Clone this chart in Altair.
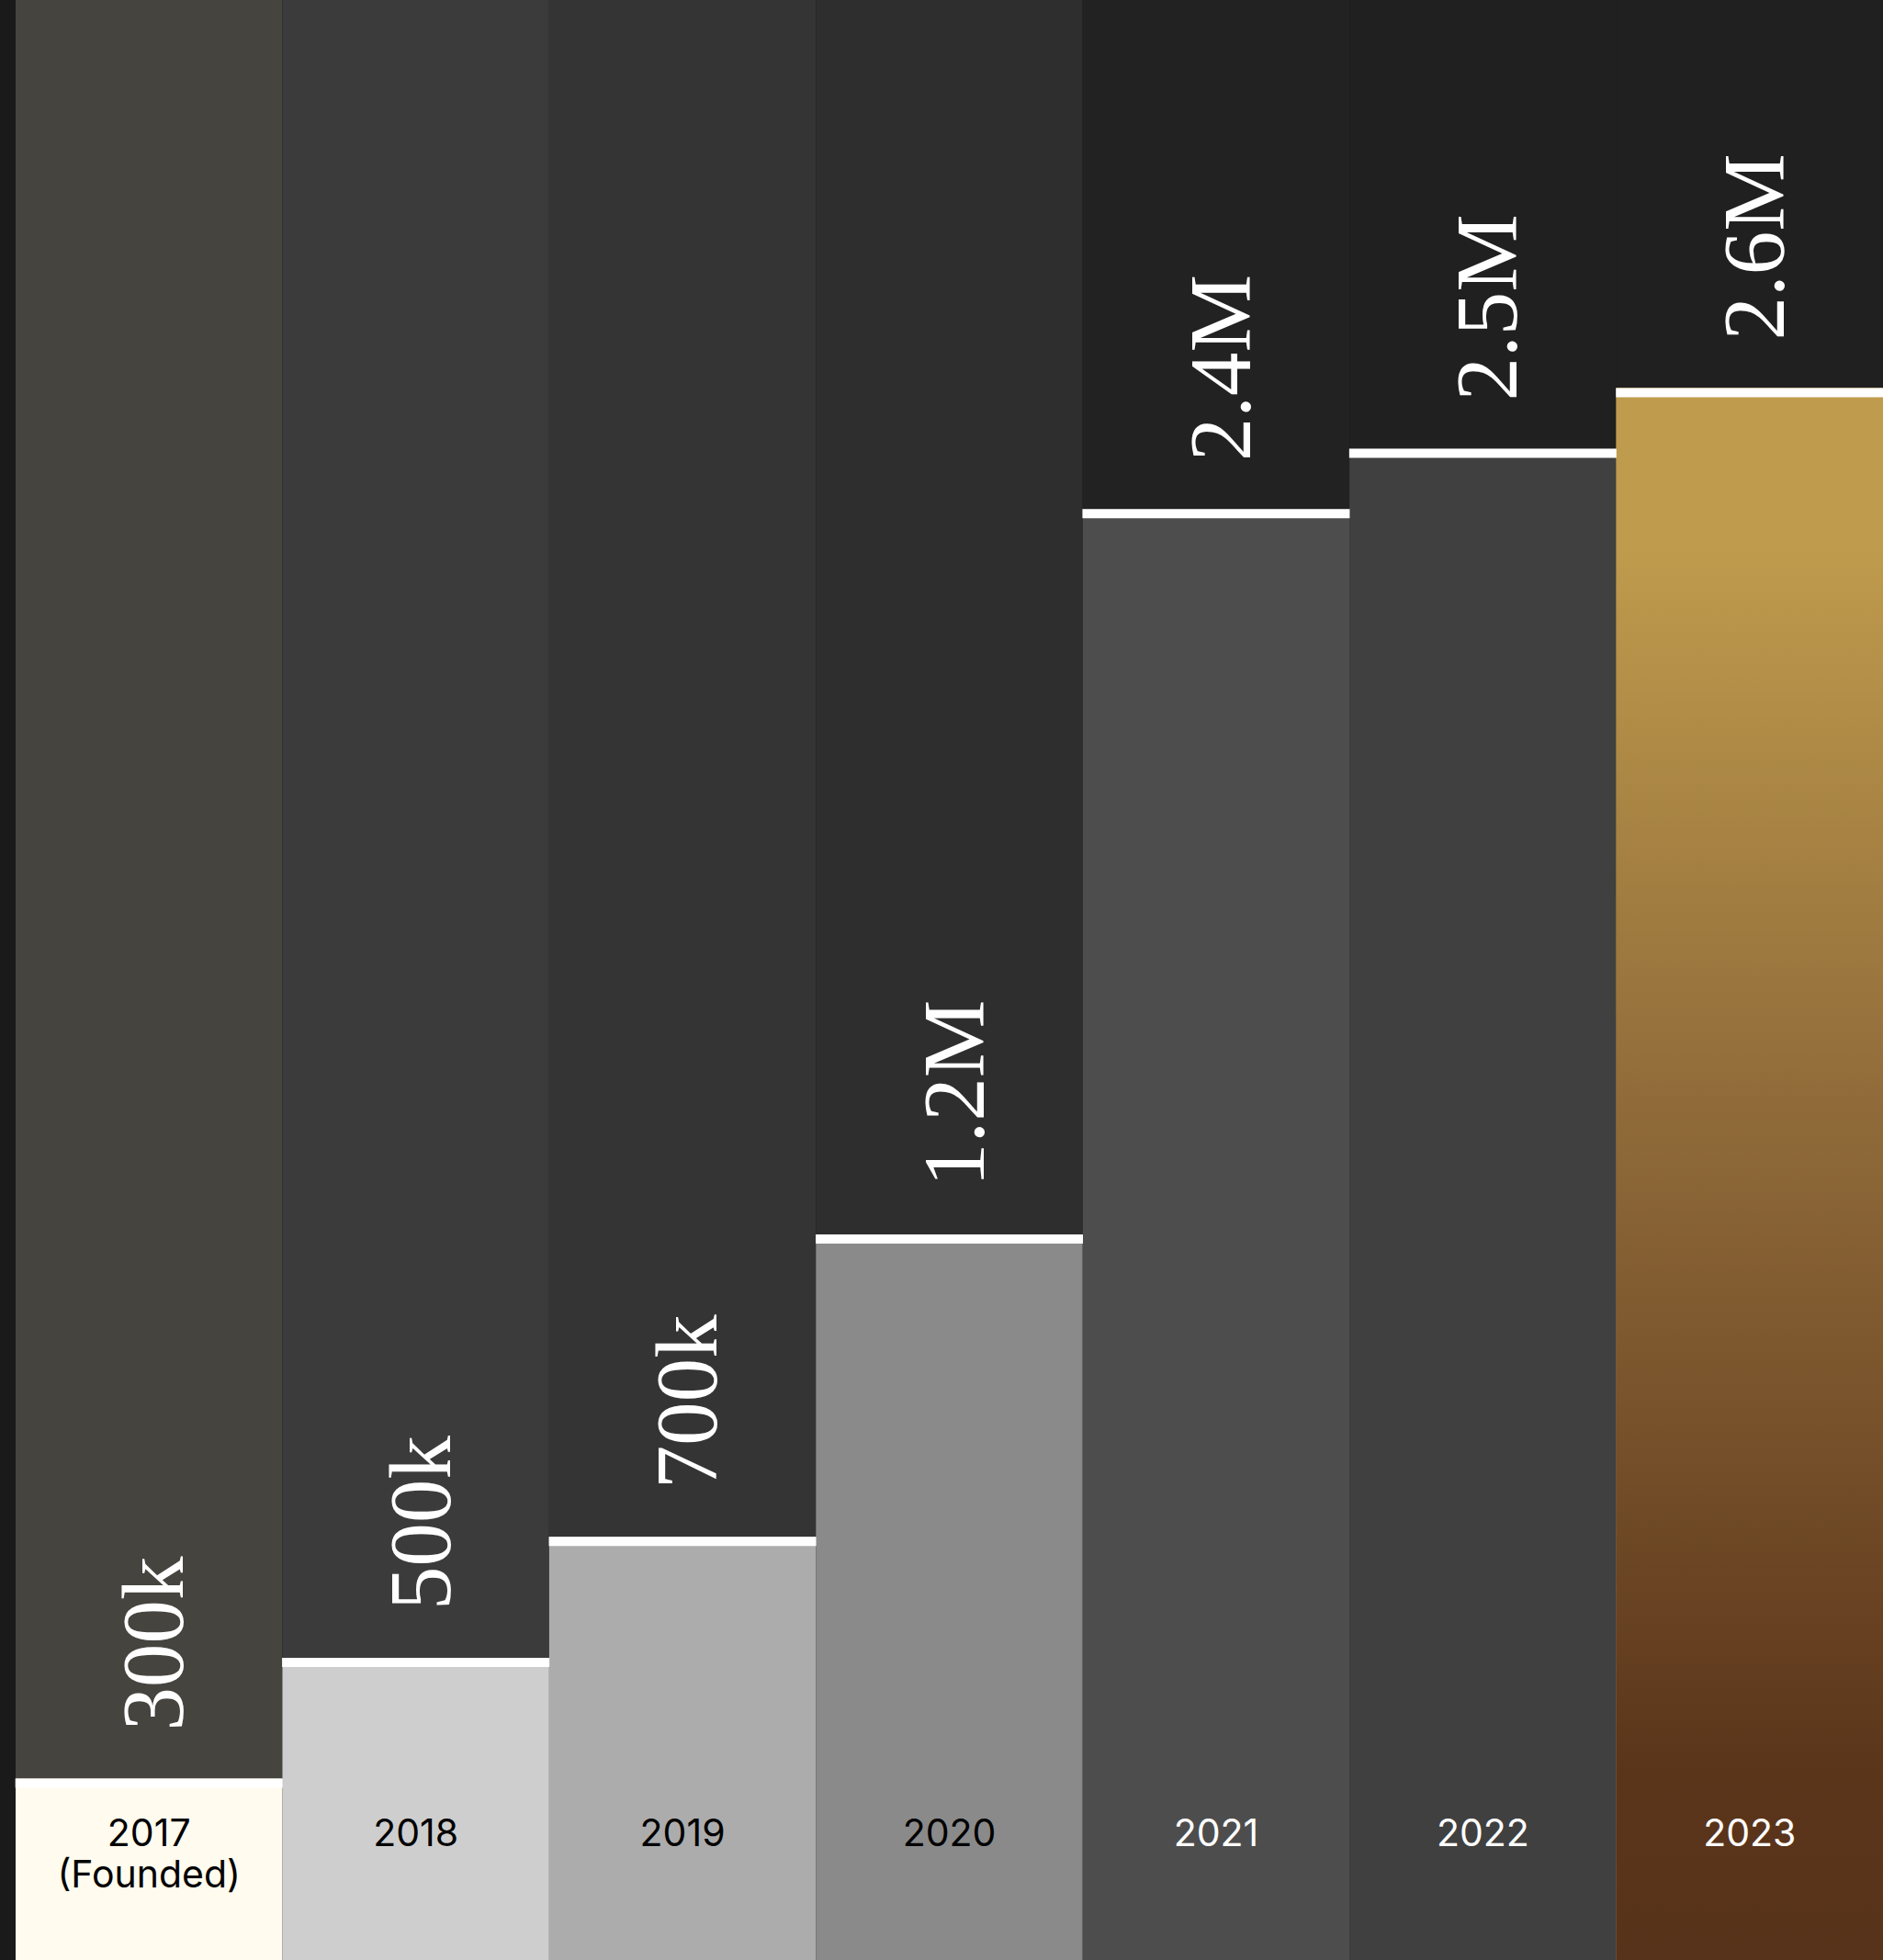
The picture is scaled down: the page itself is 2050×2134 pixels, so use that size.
import altair as alt
import pandas as pd

# ---- data ----
years = ["2017", "2018", "2019", "2020", "2021", "2022", "2023"]
year_labels = ["2017\n(Founded)", "2018", "2019", "2020", "2021", "2022", "2023"]
users = [300000, 500000, 700000, 1200000, 2400000, 2500000, 2600000]
value_labels = ["300k", "500k", "700k", "1.2M", "2.4M", "2.5M", "2.6M"]

# ---- styles ----
bg_colors = ["#46443f", "#3b3b3b", "#343434", "#2e2e2e", "#222222", "#202020", "#202020"]
bar_colors = ["#fffbee", "#cecece", "#acacac", "#8a8a8a", "#4d4d4d", "#404040", "#bf9b4d"]
text_colors = ["#000000", "#000000", "#000000", "#000000", "#ffffff", "#ffffff", "#ffffff"]

W, H = 2033, 2134
Y_MAX = 3242000

df = pd.DataFrame({
    "year": years,
    "users": users,
    "value_label": value_labels,
    "year_label": year_labels,
})

x = alt.X("year:N", sort=years,
          scale=alt.Scale(domain=years, paddingInner=0, paddingOuter=0),
          axis=None)
yscale = alt.Scale(domain=[0, Y_MAX], nice=False, zero=True)
y = alt.Y("users:Q", scale=yscale, axis=None)

base = alt.Chart(df)

bg = base.mark_rect().encode(
    x=x,
    color=alt.Color("year:N", scale=alt.Scale(domain=years, range=bg_colors), legend=None),
)

bars = base.mark_bar(opacity=1).encode(
    x=x, y=y,
    color=alt.Color("year:N", scale=alt.Scale(domain=years, range=bar_colors), legend=None),
)

gold = alt.Gradient(
    gradient="linear",
    stops=[
        alt.GradientStop(color="#bf9b4d", offset=0),
        alt.GradientStop(color="#bf9b4d", offset=0.1),
        alt.GradientStop(color="#916c3a", offset=0.45),
        alt.GradientStop(color="#5b351a", offset=0.88),
        alt.GradientStop(color="#57331b", offset=1),
    ],
    x1=0, x2=0, y1=0, y2=1,
)
grad = base.transform_filter(alt.datum.year == "2023").mark_bar(color=gold, opacity=1).encode(
    x=x, y=y,
)

ticks = base.mark_tick(color="#ffffff", thickness=10, size=291, yOffset=5, opacity=1).encode(
    x=x, y=y,
)

value_text = base.mark_text(
    angle=270, align="left", baseline="middle", dx=52, dy=8,
    font="Liberation Serif", fontSize=95, color="#ffffff",
).encode(x=x, y=y, text="value_label:N")

year_text = base.mark_text(
    font="Inter", fontSize=41, baseline="alphabetic", align="center",
    lineBreak="\n", lineHeight=45,
).encode(
    x=x,
    y=alt.value(H - 124),
    text="year_label:N",
    color=alt.Color("year:N", scale=alt.Scale(domain=years, range=text_colors), legend=None),
)

chart = alt.layer(bg, bars, grad, ticks, value_text, year_text).resolve_scale(
    color="independent"
).properties(
    width=W, height=H,
    background="#1a1a1a",
    padding={"left": 17, "top": 0, "right": 0, "bottom": 0},
    autosize=alt.AutoSizeParams(type="none"),
).configure_view(stroke=None)

chart.save("out.html", embed_options={"renderer": "svg", "actions": False})
